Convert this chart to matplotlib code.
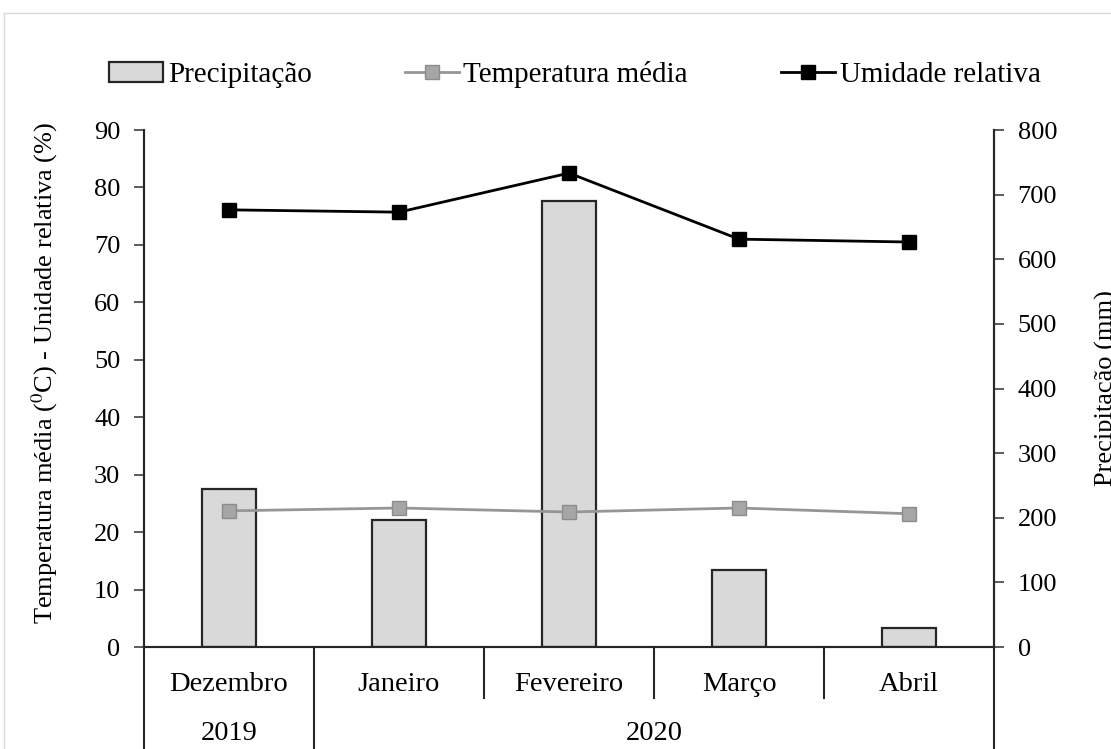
"""
    Precipitação, temperatura média e umidade relativa (Dez/2019 - Abr/2020).
"""

import numpy as np
import matplotlib
matplotlib.use("Agg")
import matplotlib.pyplot as plt
from matplotlib.lines import Line2D
import matplotlib.transforms as mtransforms

# Data
months = ["Dezembro", "Janeiro", "Fevereiro", "Março", "Abril"]
years = ["2019", "2020"]
precipitacao = [245, 197, 690, 119, 30]          # mm (right axis)
temperatura = [23.7, 24.2, 23.5, 24.2, 23.2]     # °C (left axis)
umidade = [76.1, 75.7, 82.5, 71.0, 70.5]         # % (left axis)
left_ticks = list(range(0, 91, 10))
right_ticks = list(range(0, 801, 100))

plt.rcParams['font.family'] = ['Liberation Serif', 'DejaVu Serif']
plt.rcParams['mathtext.fontset'] = 'stix'
fs = 19        # ticks and axis titles
fs_cat = 20.5  # category labels
fs_leg = 21    # legend

fig = plt.figure(figsize=(11.11, 7.49), dpi=100)
ax = fig.add_axes([144 / 1111, 1 - 647 / 749, 850 / 1111, 517 / 749])
ax2 = ax.twinx()

x = np.arange(len(months))

# Bars on the secondary axis, lines on top
ax2.bar(x, precipitacao, width=0.32, color="#d9d9d9", edgecolor="#262626",
        linewidth=1.6, zorder=2)
ax.plot(x, temperatura, color="#969696", linewidth=2, marker="s", markersize=10.5,
        markerfacecolor="#a6a6a6", markeredgecolor="#8c8c8c", zorder=3)
ax.plot(x, umidade, color="black", linewidth=2, marker="s", markersize=10.5,
        markerfacecolor="black", markeredgecolor="black", zorder=3)
ax.set_zorder(ax2.get_zorder() + 1)
ax.patch.set_visible(False)

ax.set_xlim(-0.5, len(months) - 0.5)
ax.set_ylim(0, 90)
ax2.set_ylim(0, 800)
ax.set_yticks(left_ticks)
ax2.set_yticks(right_ticks)
ax.set_xticks([])

for a in (ax, ax2):
    a.spines["top"].set_visible(False)
    for s in ("left", "right", "bottom"):
        a.spines[s].set_color("#262626")
        a.spines[s].set_linewidth(1.5)
    a.tick_params(axis="y", labelsize=fs, length=7, width=1.2, color="#404040",
                  pad=10, direction="out")

ax.set_ylabel("Temperatura média ($^{0}$C) - Unidade relativa (%)", fontsize=fs)
ax.yaxis.set_label_coords(-0.099, 0.53)
ax2.set_ylabel("Precipitação (mm)", fontsize=fs)
ax2.yaxis.set_label_coords(1.119, 0.5)

# Two-level category axis below the plot
trans = mtransforms.blended_transform_factory(ax.transData, ax.transAxes)
for xv in [-0.5, 0.5, 4.5]:
    ax.plot([xv, xv], [0, -0.25], transform=trans, color="#262626",
            linewidth=1.5, clip_on=False)
for xv in [1.5, 2.5, 3.5]:
    ax.plot([xv, xv], [0, -0.0986], transform=trans, color="#262626",
            linewidth=1.5, clip_on=False)
for i, m in enumerate(months):
    ax.text(i, -0.072, m, transform=trans, ha="center", va="center", fontsize=fs_cat)
ax.text(0, -0.168, years[0], transform=trans, ha="center", va="center", fontsize=fs_cat)
ax.text(2.5, -0.168, years[1], transform=trans, ha="center", va="center", fontsize=fs_cat)

# Legend
handles = [
    plt.Rectangle((0, 0), 1, 1, facecolor="#d9d9d9", edgecolor="#262626", linewidth=1.6),
    Line2D([], [], color="#969696", linewidth=2, marker="s", markersize=10.5,
           markerfacecolor="#a6a6a6", markeredgecolor="#8c8c8c"),
    Line2D([], [], color="black", linewidth=2, marker="s", markersize=10.5,
           markerfacecolor="black", markeredgecolor="black"),
]
labels = ["Precipitação", "Temperatura média", "Umidade relativa"]
fig.legend(handles, labels, loc="center", bbox_to_anchor=(0.5176, 0.9), ncol=3,
           frameon=False, fontsize=fs_leg, handlelength=1.85, handletextpad=0.15,
           columnspacing=3.2)

# Light outer frame of the chart area
fig.add_artist(Line2D([4 / 1111, 1], [1 - 13 / 749, 1 - 13 / 749],
                      transform=fig.transFigure, color="#d9d9d9", linewidth=1))
fig.add_artist(Line2D([4 / 1111, 4 / 1111], [0, 1 - 13 / 749],
                      transform=fig.transFigure, color="#d9d9d9", linewidth=1))

fig.savefig("out.png", dpi=100)
